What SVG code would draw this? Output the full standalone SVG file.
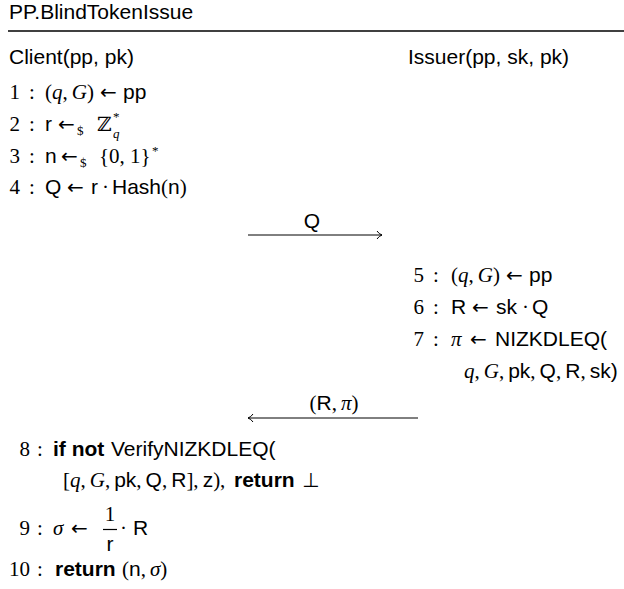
<svg xmlns="http://www.w3.org/2000/svg" width="624" height="589" viewBox="0 0 624 589">
<style>
text{font-family:"Liberation Sans",Arial,sans-serif;font-size:21px;fill:#000}
.m{font-family:"Liberation Serif","Times New Roman",serif}
.i{font-style:italic}
.b{font-weight:bold}
.ar{font-family:"DejaVu Sans",sans-serif;font-size:20px}
.bb{font-family:"DejaVu Serif","DejaVu Sans",serif;font-size:20px}
.sc{font-size:13px}
.conn{stroke:#000;stroke-width:1;fill:none}
</style>
<defs>
<marker id="ah" markerWidth="10" markerHeight="10" refX="8" refY="5" orient="auto" markerUnits="userSpaceOnUse">
<path d="M3,1 Q5,4 8,5 Q5,6 3,9" fill="none" stroke="#000" stroke-width="1"/>
</marker>
</defs>
<g id="title">
<text x="9" y="19">PP.BlindTokenIssue</text>
<line x1="8" y1="31" x2="624" y2="31" stroke="#000" stroke-width="1.6"/>
</g>
<g id="client">
<text x="9" y="64">Client(pp, pk)</text>
<text class="m" x="20" y="99" text-anchor="end">1</text><text class="m" x="29" y="99">:</text>
<text y="99"><tspan class="m" x="45">(</tspan><tspan class="m i">q</tspan><tspan class="m">,</tspan><tspan class="m i" dx="4">G</tspan><tspan class="m">)</tspan><tspan class="ar" x="100">←</tspan><tspan x="123">pp</tspan></text>
<text class="m" x="20" y="131" text-anchor="end">2</text><text class="m" x="29" y="131">:</text>
<text y="131"><tspan x="45">r</tspan><tspan class="ar" x="58">←</tspan><tspan class="m sc" x="77" dy="4">$</tspan><tspan class="bb" x="97" dy="-4">ℤ</tspan></text>
<text class="m sc" x="113" y="121">*</text>
<text class="m i sc" x="113" y="138">q</text>
<text class="m" x="20" y="163" text-anchor="end">3</text><text class="m" x="29" y="163">:</text>
<text y="163"><tspan x="45">n</tspan><tspan class="ar" x="61">←</tspan><tspan class="m sc" x="80" dy="4">$</tspan><tspan class="m" x="99" dy="-4">{0, 1}</tspan><tspan class="m sc" x="152" dy="-8">*</tspan></text>
<text class="m" x="20" y="194" text-anchor="end">4</text><text class="m" x="29" y="194">:</text>
<text y="194"><tspan x="45">Q</tspan><tspan class="ar" x="67">←</tspan><tspan x="91">r</tspan><tspan class="m" x="102">·</tspan><tspan x="112">Hash</tspan><tspan class="m">(</tspan>n<tspan class="m">)</tspan></text>
</g>
<g id="issuer">
<text x="408" y="64">Issuer(pp, sk, pk)</text>
<text class="m" x="424" y="282" text-anchor="end">5</text><text class="m" x="433" y="282">:</text>
<text y="282"><tspan class="m" x="451">(</tspan><tspan class="m i">q</tspan><tspan class="m">,</tspan><tspan class="m i" dx="4">G</tspan><tspan class="m">)</tspan><tspan class="ar" x="506">←</tspan><tspan x="529">pp</tspan></text>
<text class="m" x="424" y="314" text-anchor="end">6</text><text class="m" x="433" y="314">:</text>
<text y="314"><tspan x="451">R</tspan><tspan class="ar" x="472">←</tspan><tspan x="496">sk</tspan><tspan class="m" x="522">·</tspan><tspan x="532">Q</tspan></text>
<text class="m" x="424" y="346" text-anchor="end">7</text><text class="m" x="433" y="346">:</text>
<text y="346"><tspan class="m i" x="451">π</tspan><tspan class="ar" x="470">←</tspan><tspan x="495">NIZKDLEQ(</tspan></text>
<text y="378"><tspan class="m i" x="464">q</tspan><tspan class="m">,</tspan><tspan class="m i" dx="4">G</tspan><tspan class="m">,</tspan><tspan dx="4">pk</tspan><tspan class="m">,</tspan><tspan dx="4">Q</tspan><tspan class="m">,</tspan><tspan dx="4">R</tspan><tspan class="m">,</tspan><tspan dx="4">sk)</tspan></text>
</g>
<g id="connectors">
<line class="conn" x1="248" y1="235" x2="382" y2="235" marker-end="url(#ah)"/>
<text x="312" y="228" text-anchor="middle">Q</text>
<line class="conn" x1="418" y1="418" x2="248" y2="418" marker-end="url(#ah)"/>
<text x="334" y="410" text-anchor="middle"><tspan class="m">(</tspan>R<tspan class="m">,</tspan><tspan class="m i" dx="4">π</tspan><tspan class="m">)</tspan></text>
</g>
<g id="client-final">
<text class="m" x="30" y="456" text-anchor="end">8</text><text class="m" x="37" y="456">:</text>
<text y="456"><tspan class="b" x="53">if not</tspan><tspan x="111">VerifyNIZKDLEQ(</tspan></text>
<text y="487"><tspan class="m" x="63">[</tspan><tspan class="m i">q</tspan><tspan class="m">,</tspan><tspan class="m i" dx="4">G</tspan><tspan class="m">,</tspan><tspan dx="4">pk</tspan><tspan class="m">,</tspan><tspan dx="4">Q</tspan><tspan class="m">,</tspan><tspan dx="4">R</tspan><tspan class="m">],</tspan><tspan dx="4">z</tspan><tspan class="m">),</tspan><tspan class="b" x="234">return</tspan><tspan class="ar" x="302">⊥</tspan></text>
<text class="m" x="30" y="535" text-anchor="end">9</text><text class="m" x="37" y="535">:</text>
<text y="535"><tspan class="m i" x="53">σ</tspan><tspan class="ar" x="71">←</tspan><tspan class="m" x="120">·</tspan><tspan x="133">R</tspan></text>
<text class="m" x="110" y="521" text-anchor="middle">1</text>
<line x1="103" y1="529.5" x2="117" y2="529.5" stroke="#000" stroke-width="1.2"/>
<text x="110" y="551" text-anchor="middle">r</text>
<text class="m" x="30" y="576" text-anchor="end">10</text><text class="m" x="37" y="576">:</text>
<text y="576"><tspan class="b" x="55">return</tspan><tspan class="m" x="122">(</tspan>n<tspan class="m">,</tspan><tspan class="m i" dx="4">σ</tspan><tspan class="m">)</tspan></text>
</g>
</svg>
